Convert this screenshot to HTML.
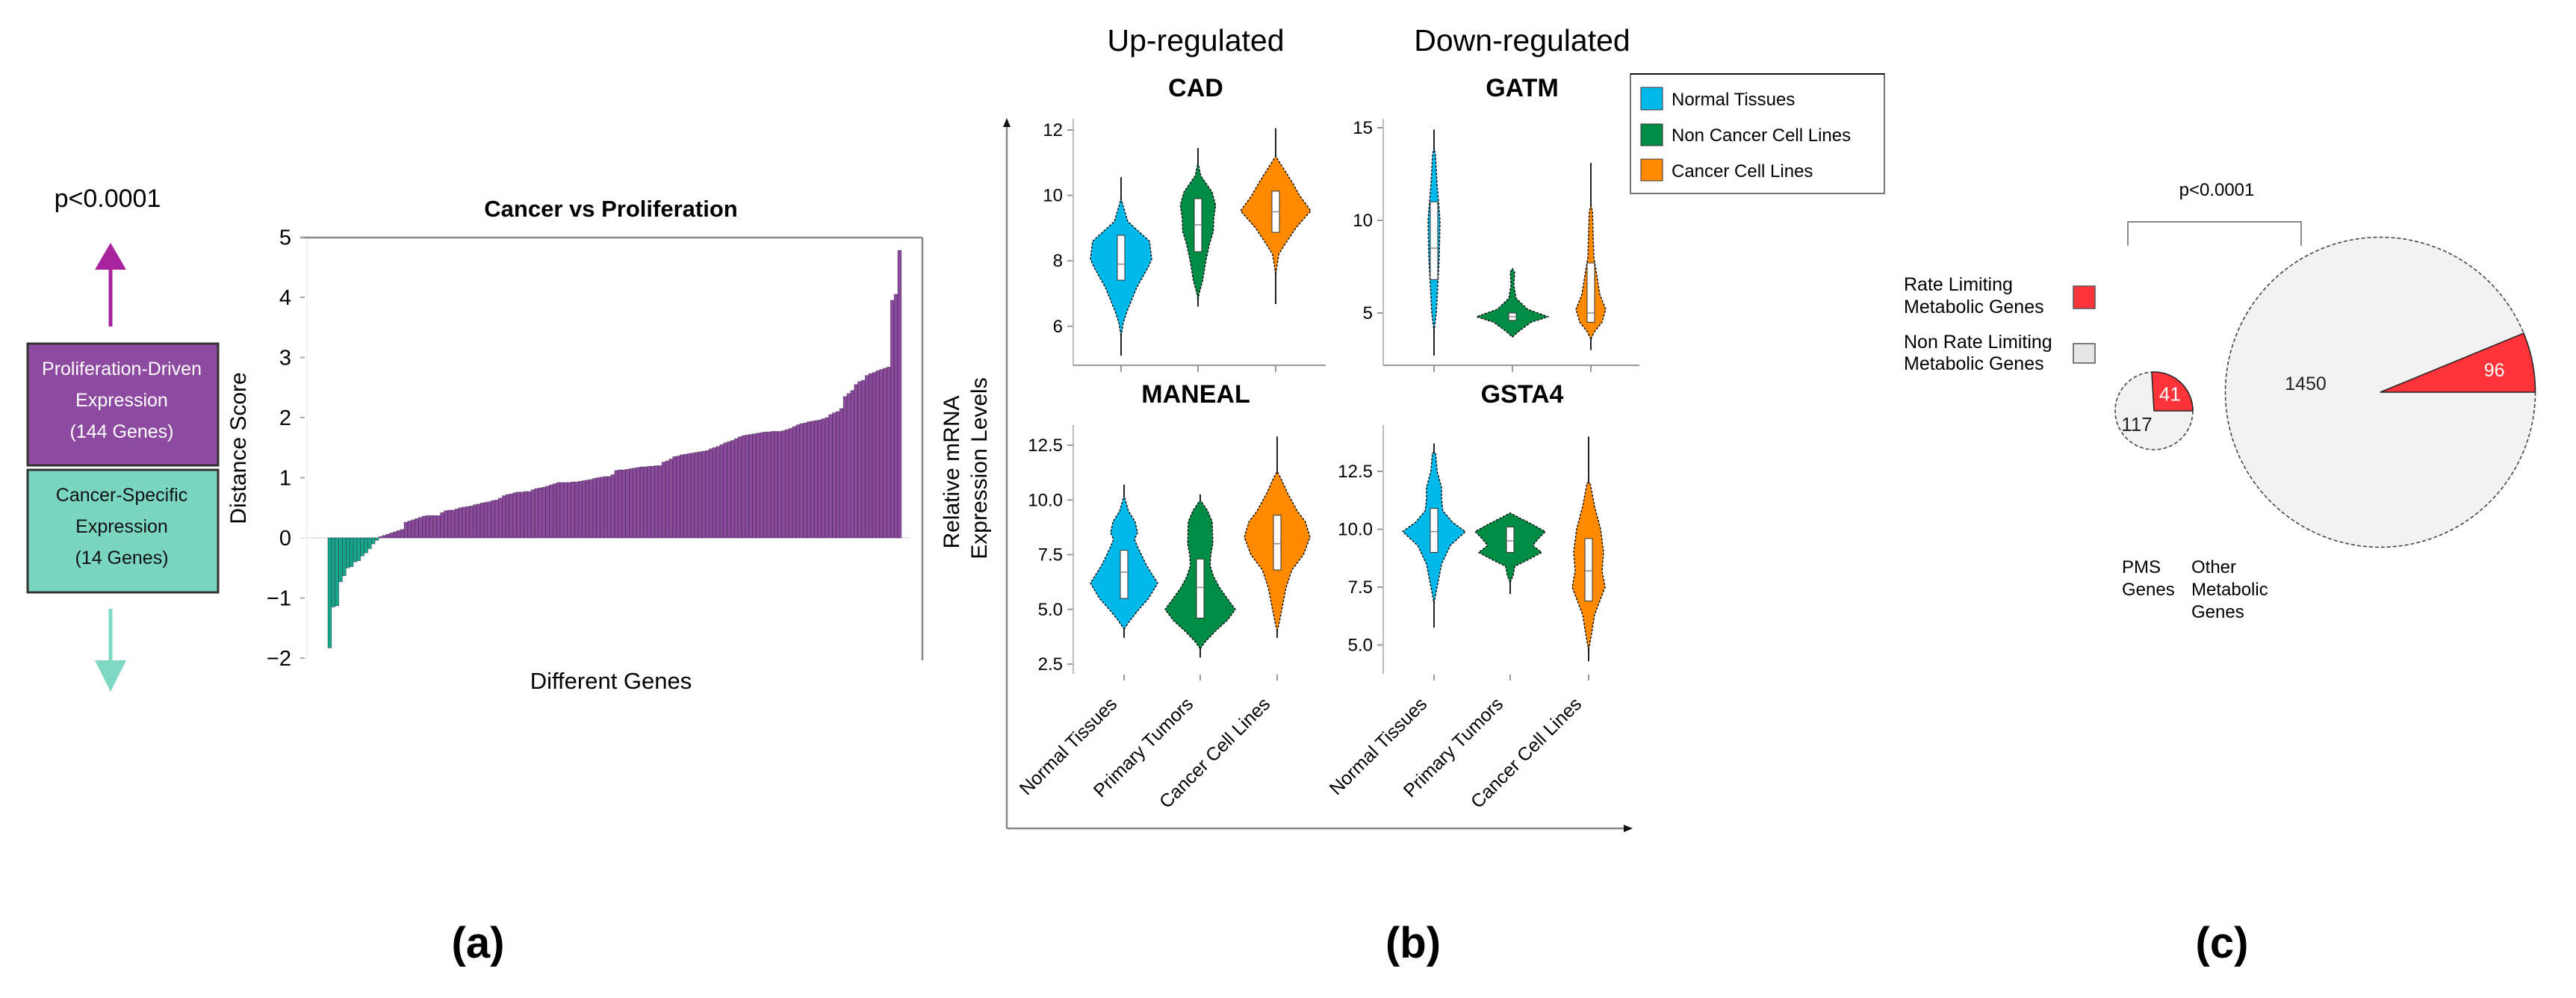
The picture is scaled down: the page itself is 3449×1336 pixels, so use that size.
<!DOCTYPE html>
<html><head><meta charset="utf-8">
<style>
html,body{margin:0;padding:0;background:#fff;}
svg{display:block;font-family:"Liberation Sans",Arial,sans-serif;}
</style></head>
<body>
<svg id="fig" width="3449" height="1336" viewBox="0 0 3449 1336" xmlns="http://www.w3.org/2000/svg">
<rect width="3449" height="1336" fill="#fff"/>

<!-- Panel a static -->
<g>
  <text x="144" y="277" font-size="34" text-anchor="middle">p&lt;0.0001</text>
  <line x1="148" y1="358" x2="148" y2="437" stroke="#a8249e" stroke-width="5"/>
  <polygon points="148,325 127,361 169,361" fill="#a8249e"/>
  <rect x="37" y="460" width="255" height="163" fill="#8e4aa0" stroke="#333" stroke-width="3"/>
  <text fill="#fff" font-size="25" text-anchor="middle">
    <tspan x="163" y="502">Proliferation-Driven</tspan><tspan x="163" y="544">Expression</tspan><tspan x="163" y="586">(144 Genes)</tspan></text>
  <rect x="37" y="629" width="255" height="164" fill="#7ad6bf" stroke="#333" stroke-width="3"/>
  <text fill="#111" font-size="25" text-anchor="middle">
    <tspan x="163" y="671">Cancer-Specific</tspan><tspan x="163" y="713">Expression</tspan><tspan x="163" y="755">(14 Genes)</tspan></text>
  <line x1="148" y1="815" x2="148" y2="890" stroke="#7fd8c4" stroke-width="5"/>
  <polygon points="148,926 127,884 169,884" fill="#7fd8c4"/>
  <text x="818" y="290" font-size="31" font-weight="bold" text-anchor="middle">Cancer vs Proliferation</text>
  <text transform="translate(329,600) rotate(-90)" font-size="30" text-anchor="middle">Distance Score</text>
  <text x="818" y="922" font-size="31" text-anchor="middle">Different Genes</text>
  <line x1="402" y1="318" x2="1235" y2="318" stroke="#888" stroke-width="2.5"/>
  <line x1="1235" y1="318" x2="1235" y2="884" stroke="#888" stroke-width="2.5"/>
  <line x1="411" y1="320" x2="411" y2="884" stroke="#f3f3f3" stroke-width="2"/>
  <g id="barTicks"></g>
  <g id="bars"></g>
  <text x="640" y="1282" font-size="58" font-weight="bold" text-anchor="middle">(a)</text>
</g>

<!-- Panel b static -->
<g>
  <text x="1601" y="68" font-size="41" text-anchor="middle">Up-regulated</text>
  <text x="2038" y="68" font-size="41" text-anchor="middle">Down-regulated</text>
  <line x1="1348" y1="168" x2="1348" y2="1109" stroke="#888" stroke-width="2.5"/>
  <polygon points="1348,158 1343,170 1353,170" fill="#111"/>
  <line x1="1348" y1="1109" x2="2176" y2="1109" stroke="#888" stroke-width="2.5"/>
  <polygon points="2186,1109 2174,1104 2174,1114" fill="#111"/>
  <text transform="translate(1284,632) rotate(-90)" font-size="30" text-anchor="middle">Relative mRNA</text>
  <text transform="translate(1321,627) rotate(-90)" font-size="30" text-anchor="middle">Expression Levels</text>
  <g>
    <rect x="2183" y="99" width="340" height="160" fill="#fff" stroke="#777" stroke-width="2"/>
    <line x1="2183" y1="99" x2="2523" y2="99" stroke="#111" stroke-width="2"/>
    <rect x="2197" y="117" width="29" height="30" fill="#00b9ea" stroke="#333" stroke-width="1"/>
    <text x="2238" y="141" font-size="24">Normal Tissues</text>
    <rect x="2197" y="166" width="29" height="29" fill="#008c44" stroke="#333" stroke-width="1"/>
    <text x="2238" y="189" font-size="24">Non Cancer Cell Lines</text>
    <rect x="2197" y="213" width="29" height="29" fill="#ff8a00" stroke="#333" stroke-width="1"/>
    <text x="2238" y="237" font-size="24">Cancer Cell Lines</text>
  </g>
  <g id="violins"></g>
  <text x="1892" y="1282" font-size="58" font-weight="bold" text-anchor="middle">(b)</text>
</g>

<!-- Panel c static -->
<g>
  <text x="2968" y="262" font-size="24" text-anchor="middle">p&lt;0.0001</text>
  <polyline points="2849,329 2849,297 3081,297 3081,329" fill="none" stroke="#888" stroke-width="2"/>
  <text font-size="25"><tspan x="2549" y="389">Rate Limiting</tspan><tspan x="2549" y="419">Metabolic Genes</tspan></text>
  <rect x="2776" y="383" width="29" height="30" fill="#ff333a" stroke="#555" stroke-width="1.5"/>
  <text font-size="25"><tspan x="2549" y="466">Non Rate Limiting</tspan><tspan x="2549" y="495">Metabolic Genes</tspan></text>
  <rect x="2776" y="460" width="29" height="26" fill="#e6e6e6" stroke="#555" stroke-width="1.5"/>
  <g id="pies"></g>
  <text font-size="24"><tspan x="2841" y="767">PMS</tspan><tspan x="2841" y="797">Genes</tspan></text>
  <text font-size="24"><tspan x="2934" y="767">Other</tspan><tspan x="2934" y="797">Metabolic</tspan><tspan x="2934" y="827">Genes</tspan></text>
  <text x="2975" y="1282" font-size="58" font-weight="bold" text-anchor="middle">(c)</text>
</g>
</svg>

<script>
// ---------- Panel a data ----------
const cancerSpecificScores = [-1.83,-1.15,-1.13,-0.73,-0.63,-0.5,-0.48,-0.4,-0.38,-0.3,-0.25,-0.18,-0.1,-0.04];
const proliferationScores = [
0.02,0.04,0.06,0.08,0.1,0.12,0.14,0.26,0.28,0.3,0.32,0.34,
0.36,0.37,0.37,0.37,0.37,0.42,0.45,0.46,0.46,0.48,0.5,0.51,
0.52,0.53,0.55,0.56,0.58,0.59,0.6,0.62,0.63,0.66,0.7,0.72,
0.73,0.75,0.76,0.76,0.77,0.77,0.8,0.82,0.83,0.84,0.86,0.88,
0.9,0.92,0.92,0.92,0.92,0.93,0.93,0.94,0.95,0.96,0.97,0.99,
1.0,1.01,1.02,1.02,1.05,1.12,1.13,1.13,1.14,1.15,1.16,1.17,
1.18,1.18,1.19,1.19,1.2,1.2,1.26,1.28,1.31,1.35,1.36,1.38,
1.39,1.4,1.41,1.42,1.43,1.44,1.45,1.48,1.5,1.52,1.55,1.58,
1.6,1.62,1.65,1.68,1.7,1.71,1.72,1.73,1.74,1.75,1.76,1.76,
1.77,1.77,1.77,1.78,1.8,1.82,1.85,1.88,1.9,1.91,1.93,1.94,
1.95,1.96,1.98,2.0,2.05,2.08,2.1,2.15,2.35,2.4,2.45,2.55,
2.6,2.62,2.7,2.73,2.75,2.78,2.8,2.82,2.84,3.95,4.05,4.78];
const distanceTicks = [-2,-1,0,1,2,3,4,5];

// ---------- Panel b data ----------
const violinPanels = ["CAD","GATM","MANEAL","GSTA4"];
const categoryLabels = ["Normal Tissues","Primary Tumors","Cancer Cell Lines"];
const cadTicks = [6,8,10,12];
const gatmTicks = [5,10,15];
const manealTicks = [2.5,5.0,7.5,10.0,12.5];
const gsta4Ticks = [5.0,7.5,10.0,12.5];
// per violin: profile values & densities (0..1), box [q1,median,q3], whisker [min,max]
const cadValues = [
 [5.7,6.1,6.45,7.2,7.8,8.05,8.6,9.2,9.9],
 [6.8,7.0,7.4,8.0,8.5,8.9,9.3,9.7,10.1,10.6,11.0],
 [7.6,8.2,8.5,9.0,9.53,10.0,10.4,11.2]];
const cadDensity = [
 [0,0.07,0.19,0.52,0.88,1.0,0.93,0.22,0],
 [0,0.05,0.2,0.34,0.49,0.66,0.68,0.76,0.61,0.12,0],
 [0,0.09,0.26,0.57,1.0,0.68,0.47,0]];
const cadBox = [[7.41,7.9,8.78],[8.28,9.1,9.9],[8.87,9.5,10.13]];
const cadWhisker = [[5.1,10.56],[6.6,11.45],[6.68,12.05]];

const gatmValues = [
 [4.0,5.0,6.5,8.0,10.0,11.0,12.0,13.5,13.9],
 [3.7,4.0,4.5,4.8,5.2,5.8,6.5,7.2,7.4],
 [3.6,4.0,4.5,5.2,6.0,7.5,8.0,10.5,10.8]];
const gatmDensity = [
 [0,0.25,0.42,0.58,0.67,0.5,0.33,0.17,0],
 [0,0.17,0.52,1.0,0.42,0.1,0.04,0.06,0],
 [0,0.24,0.71,0.95,0.57,0.29,0.19,0.1,0]];
const gatmBox = [[6.8,8.5,11.0],[4.6,4.8,5.0],[4.5,5.0,7.7]];
const gatmWhisker = [[2.7,14.9],[4.0,7.3],[3.0,13.1]];

const manealValues = [
 [4.1,4.5,5.0,5.5,6.2,7.0,7.8,8.2,8.5,9.0,9.5,10.2],
 [3.2,3.5,4.0,4.5,5.0,5.5,6.0,6.5,7.0,7.5,8.0,9.0,9.5,10.0],
 [4.0,4.3,5.0,6.0,6.8,7.5,8.3,9.0,9.5,10.3,11.0,11.3]];
const manealDensity = [
 [0,0.18,0.44,0.73,1.0,0.67,0.42,0.31,0.4,0.33,0.13,0],
 [0,0.13,0.43,0.77,1.0,0.77,0.55,0.38,0.28,0.3,0.36,0.34,0.21,0],
 [0,0.05,0.14,0.27,0.45,0.8,1.0,0.86,0.61,0.32,0.11,0]];
const manealBox = [[5.5,6.7,7.7],[4.6,6.0,7.3],[6.8,8.0,9.3]];
const manealWhisker = [[3.7,10.7],[2.8,10.25],[3.7,12.9]];

const gsta4Values = [
 [6.8,7.3,7.8,8.5,9.3,9.9,10.3,10.8,11.3,11.8,12.5,13.3],
 [7.7,8.0,8.4,8.7,9.0,9.3,9.6,9.9,10.2,10.5,10.7],
 [4.8,5.5,6.3,7.0,7.5,8.2,9.0,10.0,11.0,12.0]];
const gsta4Density = [
 [0,0.07,0.14,0.24,0.52,1.0,0.59,0.28,0.24,0.24,0.1,0.05],
 [0,0.08,0.13,0.52,0.88,0.63,0.79,0.98,0.63,0.25,0],
 [0,0.18,0.36,0.73,1.0,0.82,0.91,0.73,0.36,0.09]];
const gsta4Box = [[9.0,9.9,10.9],[9.0,9.5,10.1],[6.9,8.2,9.6]];
const gsta4Whisker = [[5.75,13.7],[7.2,10.7],[4.3,14.0]];

// ---------- Panel c data ----------
const pieGroups = ["PMS Genes","Other Metabolic Genes"];
const rateLimitingCounts = [41,96];
const nonRateLimitingCounts = [117,1450];

const NS = "http://www.w3.org/2000/svg";
function mk(tag, attrs, parent){const e=document.createElementNS(NS,tag);for(const k in attrs)e.setAttribute(k,attrs[k]);parent.appendChild(e);return e;}

// ---------- draw panel a ----------
(function(){
  const y0=720, unit=80.5, x0=439, bw=4.86;
  const yScale=v=>y0-v*unit;
  const tg=document.getElementById('barTicks');
  distanceTicks.forEach(t=>{
    const tx=mk('text',{x:390,y:yScale(t)+10,'font-size':29,'text-anchor':'end'},tg);
    tx.textContent=(t<0?'\u2212':'')+Math.abs(t);
    
    
    const tl=mk('line',{x1:402,x2:408,y1:yScale(t),y2:yScale(t),stroke:'#aaa','stroke-width':2},tg);
    
    
  });
  const zl=mk('line',{x1:402,x2:1219,y1:y0,y2:y0,stroke:'#e6e6f0','stroke-width':2},tg);
  
  
  const g=document.getElementById('bars');
  const all=cancerSpecificScores.map(v=>[v,'#17a78a']).concat(proliferationScores.map(v=>[v,'#8b4b9d']));
  all.forEach((d,i)=>{
    const v=d[0], x=x0+i*bw;
    const top=Math.min(yScale(v),y0), h=Math.abs(yScale(v)-y0);
    const r=mk('rect',{x:x,y:top,width:bw,height:Math.max(h,0.5),fill:d[1],stroke:'rgba(40,20,50,0.55)','stroke-width':0.7},g);
    
    
  });
})();

// ---------- draw panel b ----------
(function(){
  const colors=['#00b9ea','#008c44','#ff8a00'];
  const cfg=[
    {name:'CAD',tx:1601,ty:129,ax:1437,axEnd:1775,top:159,bottom:489,xline:true,y:v=>174+(12-v)*43.8,ticks:cadTicks,fmt:t=>String(t),cats:[1501,1604,1708],vals:cadValues,dens:cadDensity,box:cadBox,wh:cadWhisker,maxw:[41,31,47]},
    {name:'GATM',tx:2038,ty:129,ax:1852,axEnd:2195,top:159,bottom:489,xline:true,y:v=>171+(15-v)*24.8,ticks:gatmTicks,fmt:t=>String(t),cats:[1920,2025,2130],vals:gatmValues,dens:gatmDensity,box:gatmBox,wh:gatmWhisker,maxw:[12,48,21]},
    {name:'MANEAL',tx:1601,ty:539,ax:1437,axEnd:1775,top:569,bottom:902,xline:false,y:v=>596+(12.5-v)*29.3,ticks:manealTicks,fmt:t=>t.toFixed(1),cats:[1505,1607,1710],vals:manealValues,dens:manealDensity,box:manealBox,wh:manealWhisker,maxw:[45,47,44]},
    {name:'GSTA4',tx:2038,ty:539,ax:1852,axEnd:2195,top:569,bottom:902,xline:false,y:v=>631+(12.5-v)*31,ticks:gsta4Ticks,fmt:t=>t.toFixed(1),cats:[1920,2022,2127],vals:gsta4Values,dens:gsta4Density,box:gsta4Box,wh:gsta4Whisker,maxw:[42,48,22]}
  ];
  const root=document.getElementById('violins');
  cfg.forEach((c,pi)=>{
    const g=mk('g',{},root);
    
    
    const t=mk('text',{x:c.tx,y:c.ty,'font-size':34,'font-weight':'bold','text-anchor':'middle'},g);
    t.textContent=violinPanels[pi];
    
    
    const ya=mk('line',{x1:c.ax,x2:c.ax,y1:c.top,y2:c.bottom,stroke:'#bbb','stroke-width':2},g);
    
    
    if(c.xline){
      const xa=mk('line',{x1:c.ax,x2:c.axEnd,y1:c.bottom,y2:c.bottom,stroke:'#999','stroke-width':2},g);
      
      
    }
    c.ticks.forEach(tv=>{
      const yy=c.y(tv);
      const tl=mk('line',{x1:c.ax-8,x2:c.ax-1,y1:yy,y2:yy,stroke:'#999','stroke-width':2},g);
      
      
      const tx=mk('text',{x:c.ax-14,y:yy+8,'font-size':24,'text-anchor':'end'},g);
      tx.textContent=c.fmt(tv);
      
      
    });
    c.cats.forEach((cx,ci)=>{
      const xt=mk('line',{x1:cx,x2:cx,y1:c.bottom+1,y2:c.bottom+9,stroke:'#999','stroke-width':2},g);
      
      
      if(!c.xline){
        const lb=mk('text',{x:0,y:0,'font-size':25,'text-anchor':'end',transform:'translate('+(cx-8)+',944) rotate(-45)'},g);
        lb.textContent=categoryLabels[ci];
        
        
      }
      // whisker
      const w=c.wh[ci];
      const wl=mk('line',{x1:cx,x2:cx,y1:c.y(w[0]),y2:c.y(w[1]),stroke:'#222','stroke-width':2},g);
      
      
      // violin
      const vals=c.vals[ci], dens=c.dens[ci], mw=c.maxw[ci];
      let right=[],left=[];
      vals.forEach((v,k)=>{right.push([cx+dens[k]*mw,c.y(v)]);left.push([cx-dens[k]*mw,c.y(v)]);});
      const pts=right.concat(left.reverse()).map(p=>p[0].toFixed(1)+','+p[1].toFixed(1)).join(' ');
      const vp=mk('polygon',{points:pts,fill:colors[ci],stroke:'#111','stroke-width':1.5,'stroke-dasharray':'3,2','stroke-linejoin':'round'},g);
      
      
      // box
      const b=c.box[ci];
      const br=mk('rect',{x:cx-5,y:c.y(b[2]),width:10,height:c.y(b[0])-c.y(b[2]),fill:'#fff',stroke:'#333','stroke-width':1},g);
      
      
      const md=mk('line',{x1:cx-5,x2:cx+5,y1:c.y(b[1]),y2:c.y(b[1]),stroke:'#888','stroke-width':1.5},g);
      
      
    });
  });
})();

// ---------- draw panel c ----------
(function(){
  const centers=[[2884,550],[3187,525]], radii=[52,207.5];
  const root=document.getElementById('pies');
  pieGroups.forEach((name,i)=>{
    const [cx,cy]=centers[i], r=radii[i];
    const total=rateLimitingCounts[i]+nonRateLimitingCounts[i];
    const ang=rateLimitingCounts[i]/total*2*Math.PI;
    const g=mk('g',{},root);
    
    
    const bg=mk('circle',{cx:cx,cy:cy,r:r,fill:'#f2f2f2',stroke:'#444','stroke-width':1.6,'stroke-dasharray':'5,3'},g);
    
    
    const ex=cx+r*Math.cos(-ang), ey=cy+r*Math.sin(-ang);
    const large=ang>Math.PI?1:0;
    const d='M'+cx+','+cy+' L'+(cx+r)+','+cy+' A'+r+','+r+' 0 '+large+' 0 '+ex.toFixed(1)+','+ey.toFixed(1)+' Z';
    const sl=mk('path',{d:d,fill:'#ff333a',stroke:'#222','stroke-width':1.5},g);
    
    
    const mid=-ang/2, lr=i===0?0.6:0.75;
    const t1=mk('text',{x:cx+lr*r*Math.cos(mid),y:cy+lr*r*Math.sin(mid)+9,'font-size':i===0?26:25,fill:'#fff','text-anchor':'middle'},g);
    t1.textContent=rateLimitingCounts[i];
    
    
    const mid2=(2*Math.PI-ang)/2;
    const lr2=i===0?0.62:0.48;
    const t2=mk('text',{x:cx+lr2*r*Math.cos(mid2)*(i===0?0.85:1),y:cy+lr2*r*Math.sin(-mid2+Math.PI*0)+9,'font-size':i===0?26:25,fill:'#222','text-anchor':'middle'},g);
    if(i===0){t2.setAttribute('x',cx-23);t2.setAttribute('y',cy+27);} else {t2.setAttribute('x',cx-100);t2.setAttribute('y',cy-3);}
    t2.textContent=nonRateLimitingCounts[i];
    
    
  });
})();
</script>
</body></html>
